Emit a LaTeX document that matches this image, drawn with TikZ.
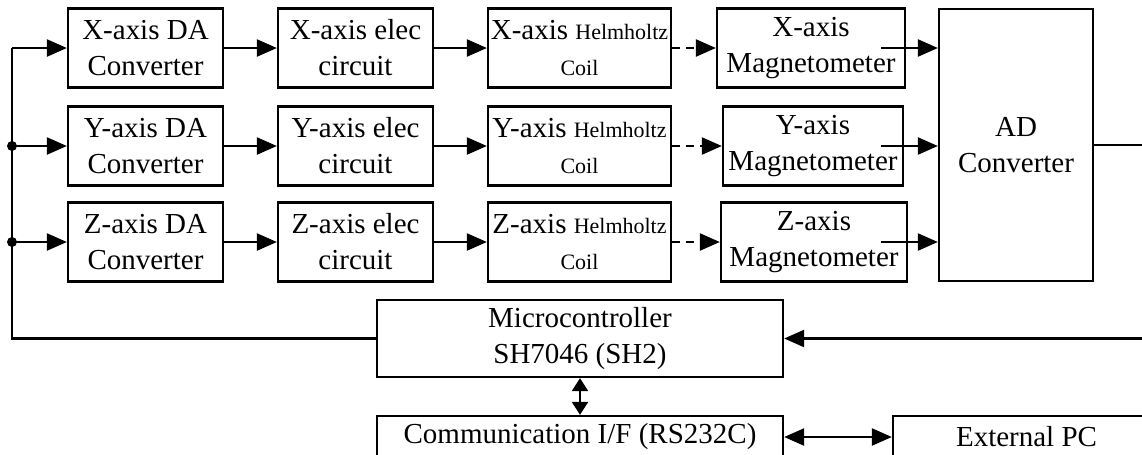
\documentclass[tikz,border=0pt]{standalone}
\usepackage{fontspec}
\setmainfont{Liberation Serif}
\usetikzlibrary{arrows.meta}
\newcommand{\hz}[1]{{\fontsize{12.5}{20.5}\selectfont #1}}

\begin{document}
\begin{tikzpicture}[line width=1.3pt]
\tikzstyle{line} = [draw, -{Triangle[length=0.4cm,width=0.34cm]}]
\tikzstyle{dline} = [line, dash pattern=on 0.16cm off 0.12cm]
\tikzstyle{both} = [draw, {Triangle[length=0.4cm,width=0.34cm]}-{Triangle[length=0.4cm,width=0.34cm]}]
\tikzstyle{bothsmall} = [draw, {Triangle[length=0.26cm,width=0.32cm]}-{Triangle[length=0.26cm,width=0.32cm]}]
\tikzstyle{vertex}=[rectangle,draw,minimum width=3.1cm,minimum height=1.58cm,inner sep=0pt,align=center,font=\fontsize{16.5}{20.5}\selectfont]
\clip (0,0) rectangle (22.84,-9.08);
% bus points
\coordinate (J_x) at (0.24,-0.96);
\coordinate (J_y) at (0.24,-2.92);
\coordinate (J_z) at (0.24,-4.84);
% DA converters
\node[vertex] (DA_x) at (2.91,-0.96) {X-axis DA\\Converter};
\node[vertex] (DA_y) at (2.91,-2.92) {Y-axis DA\\Converter};
\node[vertex] (DA_z) at (2.91,-4.84) {Z-axis DA\\Converter};
% elec circuits
\node[vertex] (EC_x) at (7.11,-0.96) {X-axis elec\\circuit};
\node[vertex] (EC_y) at (7.11,-2.92) {Y-axis elec\\circuit};
\node[vertex] (EC_z) at (7.11,-4.84) {Z-axis elec\\circuit};
% coils
\node[vertex,minimum width=3.66cm] (HC_x) at (11.59,-0.96) {X-axis \hz{Helmholtz}\\\hz{Coil}};
\node[vertex,minimum width=3.66cm] (HC_y) at (11.59,-2.92) {Y-axis \hz{Helmholtz}\\\hz{Coil}};
\node[vertex,minimum width=3.66cm] (HC_z) at (11.59,-4.84) {Z-axis \hz{Helmholtz}\\\hz{Coil}};
% magnetometers
\node[vertex,minimum width=3.76cm] (MG_x) at (16.22,-0.96) {X-axis\\Magnetometer};
\node[vertex,minimum width=3.6cm] (MG_y) at (16.26,-2.92) {Y-axis\\Magnetometer};
\node[vertex,minimum width=3.72cm] (MG_z) at (16.28,-4.84) {Z-axis\\Magnetometer};
\node[vertex,minimum width=3.08cm,minimum height=5.44cm] (AD) at (20.32,-2.9) {AD\\Converter};
\node[vertex,minimum width=8.12cm,minimum height=1.54cm] (MC) at (11.6,-6.77) {Microcontroller\\SH7046 (SH2)};
\node[vertex,minimum width=8.12cm,minimum height=0.84cm] (CI) at (11.6,-8.74) {Communication I/F (RS232C)};
\node[vertex,minimum width=5.34cm,minimum height=0.84cm] (PC) at (20.53,-8.74) {External PC};
\draw (MC.west) -| (J_x);
\fill (J_y) circle (0.1);
\fill (J_z) circle (0.1);
\path [line] (J_x) -- (DA_x);
\path [line] (J_y) -- (DA_y);
\path [line] (J_z) -- (DA_z);
\path [line] (DA_x) -- (EC_x);
\path [line] (DA_y) -- (EC_y);
\path [line] (DA_z) -- (EC_z);
\path [line] (EC_x) -- (HC_x);
\path [line] (EC_y) -- (HC_y);
\path [line] (EC_z) -- (HC_z);
\path [dline] (HC_x) -- (MG_x);
\path [dline] (HC_y) -- (MG_y);
\path [dline] (HC_z) -- (MG_z);
\path [line] ([xshift=-0.5cm]MG_x.east) -- (MG_x.east -| AD.west);
\path [line] ([xshift=-0.46cm]MG_y.east) -- (MG_y.east -| AD.west);
\path [line] ([xshift=-0.54cm]MG_z.east) -- (MG_z.east -| AD.west);
\path [line] (AD.east) -- ++(1.5,0) |- (MC.east);
\path [bothsmall] (MC.south) -- (CI.north);
\path [both] (CI.east) -- (PC.west);

\end{tikzpicture}
\end{document}
